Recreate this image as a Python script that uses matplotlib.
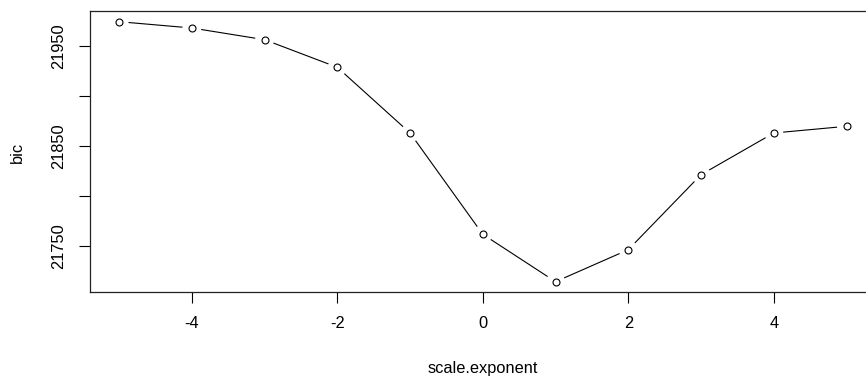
import matplotlib
matplotlib.use("Agg")
import matplotlib.pyplot as plt
import numpy as np

# Data
scale_exponent = [-5, -4, -3, -2, -1, 0, 1, 2, 3, 4, 5]
bic = [21974.0, 21967.7, 21956.0, 21928.4, 21862.7, 21761.4,
       21714.0, 21746.0, 21821.0, 21862.7, 21869.4]
x_ticks = [-4, -2, 0, 2, 4]
y_ticks = [21750, 21800, 21850, 21900, 21950]
y_ticklabels = ["21750", "", "21850", "", "21950"]

plt.rcParams['font.family'] = ['Liberation Sans', 'DejaVu Sans']

W, H, DPI = 866, 376, 100
fig = plt.figure(figsize=(W / DPI, H / DPI), dpi=DPI)

# axes box in pixels (R plot region, right side cropped by the image)
left_px, right_px, top_px, bottom_px = 90.0, 875.6, 11.3, 292.1
ax = fig.add_axes([left_px / W, (H - bottom_px) / H,
                   (right_px - left_px) / W, (bottom_px - top_px) / H])

# R default 4% axis extension
xr = max(scale_exponent) - min(scale_exponent)
yr = max(bic) - min(bic)
ax.set_xlim(min(scale_exponent) - 0.04 * xr, max(scale_exponent) + 0.04 * xr)
ax.set_ylim(min(bic) - 0.04 * yr, max(bic) + 0.04 * yr)

# R type="b": line segments with gaps around the points
gap = 10.0  # pixels
pts = ax.transData.transform(np.column_stack([scale_exponent, bic]))
inv = ax.transData.inverted()
for p0, p1 in zip(pts[:-1], pts[1:]):
    d = p1 - p0
    L = np.hypot(*d)
    if L <= 2 * gap:
        continue
    u = d / L
    a = inv.transform(p0 + u * gap)
    b = inv.transform(p1 - u * gap)
    ax.plot([a[0], b[0]], [a[1], b[1]], color='black', lw=0.8, zorder=2)
ax.plot(scale_exponent, bic, ls='none', marker='o', ms=5, mfc='white',
        mec='black', mew=0.8, zorder=2.2)

ax.set_xticks(x_ticks)
ax.set_xticklabels([str(v) for v in x_ticks])
ax.set_yticks(y_ticks)
ax.set_yticklabels(y_ticklabels, rotation=90, va='center')

fs = 11.8
ax.tick_params(axis='both', direction='out', length=7.9, width=0.8,
               color='black', labelsize=fs, labelcolor='black')
ax.tick_params(axis='x', pad=9)
ax.tick_params(axis='y', pad=9)
for s in ax.spines.values():
    s.set_linewidth(0.9)
    s.set_color('#222222')

fig.text(482.7 / W, 1 - 368 / H, 'scale.exponent', ha='center', va='center',
         fontsize=fs)
fig.text(17 / W, 1 - 152 / H, 'bic', ha='center', va='center',
         fontsize=fs, rotation=90)

fig.savefig('out.png', dpi=DPI)
